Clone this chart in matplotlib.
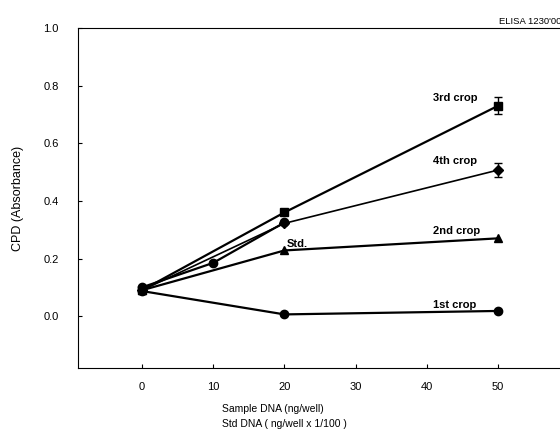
import matplotlib
matplotlib.use("Agg")
from matplotlib import pyplot as plt

plt.rcParams['font.family'] = ['Liberation Sans', 'DejaVu Sans']

# data
x_std = [0, 10, 20]
y_std = [0.10, 0.185, 0.325]

x_crop = [0, 20, 50]
crop1 = [0.087, 0.006, 0.018]
crop2 = [0.09, 0.228, 0.27]
crop3 = [0.09, 0.36, 0.73]
crop3_err = [0, 0, 0.03]
crop4 = [0.09, 0.322, 0.507]
crop4_err = [0, 0, 0.025]

fig = plt.figure(figsize=(5.6, 4.36), dpi=100)
ax = fig.add_axes([78/560, 68/436, 482/560, 340/436])

kw = dict(color='black', lw=1.6, ms=6)
ax.plot(x_std, y_std, marker='o', **kw)
ax.plot(x_crop, crop1, marker='o', **kw)
ax.plot(x_crop, crop2, marker='^', **kw)
ax.errorbar(x_crop, crop3, yerr=crop3_err, marker='s', capsize=3, elinewidth=1, **kw)
ax.errorbar(x_crop, crop4, yerr=crop4_err, marker='D', capsize=3, elinewidth=1, ms=5.5,
            color='black', lw=1.2)

tkw = dict(fontsize=8, fontweight='bold', ha='left', va='bottom')
ax.text(40.8, 0.74, '3rd crop', **tkw)
ax.text(40.8, 0.52, '4th crop', **tkw)
ax.text(40.8, 0.278, '2nd crop', **tkw)
ax.text(40.8, 0.022, '1st crop', **tkw)
ax.text(20.3, 0.232, 'Std.', **tkw)

ax.set_xlim(-9, 58.7)
ax.set_ylim(-0.18, 1.0)
ax.set_xticks([0, 10, 20, 30, 40, 50])
ax.set_yticks([0.0, 0.2, 0.4, 0.6, 0.8, 1.0])
ax.set_yticklabels(['0.0', '0.2', '0.4', '0.6', '0.8', '1.0'])
ax.tick_params(direction='in', length=3, labelsize=8, width=0.8)
ax.tick_params(axis='x', pad=10)
ax.tick_params(axis='y', pad=14)
ax.spines['right'].set_visible(False)
for s in ['left', 'bottom', 'top']:
    ax.spines[s].set_linewidth(0.8)

ax.set_ylabel('CPD (Absorbance)', fontsize=9, labelpad=14)
fig.text(222/560, 1 - 409/436, 'Sample DNA (ng/well)', fontsize=7.5, ha='left', va='center')
fig.text(222/560, 1 - 424/436, 'Std DNA ( ng/well x 1/100 )', fontsize=7.5, ha='left', va='center')
fig.text(499/560, 1 - 22/436, "ELISA 1230'00", fontsize=6.8, ha='left', va='center')

fig.savefig('out.png', dpi=100)
